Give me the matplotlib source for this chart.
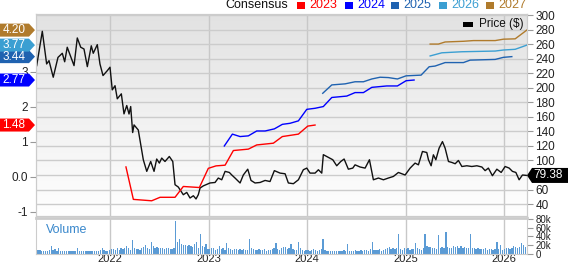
import matplotlib
matplotlib.use("Agg")
import matplotlib.pyplot as plt
import numpy as np
from matplotlib.colors import LinearSegmentedColormap
from matplotlib.patches import Polygon, Rectangle
from matplotlib.transforms import blended_transform_factory

plt.rcParams['font.family'] = ['Liberation Sans', 'DejaVu Sans']

# price ($), x in decimal years
price_t = [2021.256, 2021.313, 2021.357, 2021.381, 2021.424, 2021.472, 2021.516, 2021.540,
           2021.566, 2021.635, 2021.668, 2021.703, 2021.736, 2021.770, 2021.810, 2021.830,
           2021.871, 2021.898, 2021.929, 2021.973, 2022.000, 2022.023, 2022.051, 2022.074,
           2022.115, 2022.142, 2022.170, 2022.193, 2022.210, 2022.230, 2022.244, 2022.287,
           2022.338, 2022.373, 2022.413, 2022.447, 2022.474, 2022.501, 2022.525, 2022.558,
           2022.602, 2022.637, 2022.660, 2022.693, 2022.744, 2022.779, 2022.812, 2022.846,
           2022.873, 2022.896, 2022.914, 2022.947, 2023.015, 2023.066, 2023.099, 2023.134,
           2023.168, 2023.211, 2023.236, 2023.269, 2023.320, 2023.353, 2023.398, 2023.431,
           2023.472, 2023.523, 2023.574, 2023.624, 2023.668, 2023.726, 2023.777, 2023.810,
           2023.861, 2023.912, 2023.962, 2023.997, 2024.030, 2024.081, 2024.115, 2024.149,
           2024.165, 2024.200, 2024.261, 2024.301, 2024.342, 2024.376, 2024.419, 2024.464,
           2024.487, 2024.538, 2024.589, 2024.633, 2024.673, 2024.724, 2024.775, 2024.825,
           2024.876, 2024.927, 2024.995, 2025.046, 2025.096, 2025.130, 2025.171, 2025.215,
           2025.232, 2025.259, 2025.282, 2025.307, 2025.340, 2025.374, 2025.401, 2025.435,
           2025.469, 2025.503, 2025.536, 2025.571, 2025.621, 2025.672, 2025.723, 2025.774,
           2025.807, 2025.840, 2025.881, 2025.926, 2025.970, 2026.010, 2026.051, 2026.084,
           2026.119, 2026.152, 2026.186, 2026.230]
price = [230.7, 278, 233, 237.5, 214.7, 242, 247.7, 236,
         256, 230.7, 268.8, 256, 253.6, 229.3, 258, 247.7,
         259.6, 233, 217, 223.8, 228.5, 197.3, 203, 185,
         191.8, 164.2, 175.7, 164, 174.3, 138.5, 149, 142,
         101, 85, 98.6, 85, 102, 96.4, 103.3, 98.6,
         105.5, 98.6, 66.6, 63.4, 52.8, 56, 48.3, 51.4,
         47, 52.8, 62, 65, 69, 69.7, 75.8, 73.4,
         85, 83.5, 80, 75.8, 69, 80, 88, 72.5,
         69, 69.7, 72.5, 71, 86, 82.6, 81.7, 69,
         68, 73.4, 87.2, 89.5, 82.6, 82.6, 87.2, 82.6,
         108, 105.5, 101, 92.7, 98.6, 102, 88, 89.5,
         94, 91, 89.5, 101, 73.4, 75.8, 73.4, 75.8,
         78, 83.5, 80, 89.5, 96.4, 94, 112.4, 111,
         101, 92.7, 107.8, 101, 117, 126, 117, 98.6,
         97.3, 95.5, 100, 91.7, 92.7, 91.7, 92.7, 91,
         86, 89.5, 79, 88, 83.5, 91.7, 89.5, 85,
         83.5, 73.4, 80, 79.38]
last_price = 79.38

# consensus EPS estimates by fiscal year
eps23_t = [2022.162, 2022.237, 2022.423, 2022.508, 2022.660, 2022.744, 2022.907, 2022.998,
           2023.076, 2023.168, 2023.252, 2023.404, 2023.489, 2023.658, 2023.749, 2023.912,
           2024.007, 2024.081]
eps23 = [0.28, -0.65, -0.69, -0.59, -0.59, -0.28, -0.31, 0.24,
         0.31, 0.33, 0.75, 0.79, 0.91, 0.96, 1.15, 1.22, 1.45, 1.48]
eps24_t = [2023.160, 2023.242, 2023.320, 2023.404, 2023.489, 2023.574, 2023.668, 2023.749,
           2023.827, 2023.912, 2023.997, 2024.081, 2024.165, 2024.251, 2024.403, 2024.487,
           2024.572, 2024.657, 2024.809, 2024.917, 2025.005, 2025.086]
eps24 = [0.88, 1.22, 1.15, 1.17, 1.31, 1.31, 1.37, 1.50,
         1.53, 1.60, 1.93, 1.96, 2.01, 2.27, 2.31, 2.41,
         2.41, 2.56, 2.60, 2.60, 2.75, 2.77]
eps25_t = [2024.159, 2024.251, 2024.386, 2024.487, 2024.572, 2024.657, 2024.741, 2024.825,
           2024.917, 2025.005, 2025.157, 2025.239, 2025.299, 2025.401, 2025.587, 2025.655,
           2025.909, 2025.993, 2026.078]
eps25 = [2.39, 2.63, 2.66, 2.72, 2.72, 2.80, 2.85, 2.84,
         2.80, 2.89, 2.91, 3.15, 3.17, 3.27, 3.27, 3.34,
         3.36, 3.42, 3.44]
eps26_t = [2025.249, 2025.368, 2025.571, 2025.909, 2025.993, 2026.112, 2026.230]
eps26 = [3.46, 3.55, 3.58, 3.60, 3.63, 3.65, 3.77]
eps27_t = [2025.249, 2025.333, 2025.401, 2025.587, 2025.688, 2025.909, 2025.993, 2026.112, 2026.230]
eps27 = [3.80, 3.80, 3.86, 3.88, 3.90, 3.90, 3.94, 3.95, 4.20]

# weekly volume (thousands), starting April 2021
vol_start = 2021.25
volume = [6, 8, 8, 6, 5, 7, 6, 9, 17, 8,
          10, 7, 12, 6, 5, 5, 6, 5, 6, 7,
          5, 6, 13, 6, 5, 6, 5, 6, 5, 7,
          6, 5, 6, 7, 9, 14, 8, 6, 5, 9,
          10, 11, 9, 14, 8, 12, 10, 13, 17, 12,
          9, 31, 12, 10, 11, 9, 12, 16, 20, 14,
          10, 27, 17, 14, 15, 12, 13, 12, 11, 12,
          12, 11, 11, 12, 76, 28, 33, 22, 20, 21,
          17, 20, 18, 15, 22, 26, 14, 45, 18, 16,
          23, 11, 10, 12, 14, 9, 11, 17, 10, 12,
          9, 25, 12, 10, 9, 11, 10, 8, 10, 9,
          11, 8, 9, 33, 12, 10, 9, 8, 11, 9,
          8, 10, 7, 9, 8, 10, 12, 24, 11, 9,
          13, 15, 16, 10, 12, 22, 10, 8, 9, 28,
          12, 9, 7, 8, 8, 7, 9, 10, 8, 7,
          9, 10, 35, 9, 6, 5, 7, 5, 5, 6,
          5, 6, 7, 8, 6, 22, 7, 6, 7, 8,
          6, 7, 8, 7, 9, 8, 7, 10, 26, 9,
          8, 9, 10, 7, 9, 10, 12, 15, 11, 13,
          10, 12, 45, 11, 9, 13, 10, 12, 9, 11,
          10, 24, 12, 11, 9, 13, 45, 18, 15, 16,
          14, 12, 10, 43, 13, 15, 12, 51, 16, 14,
          13, 17, 16, 18, 14, 17, 12, 16, 13, 12,
          46, 13, 12, 11, 12, 10, 11, 10, 12, 9,
          10, 11, 9, 10, 28, 11, 20, 9, 10, 12,
          14, 11, 13, 18, 15, 13, 16, 25, 19, 16]

years = [2022, 2023, 2024, 2025, 2026]
series = ['2023', '2024', '2025', '2026', '2027']
colors = ['#ff0000', '#0000ff', '#1f62b0', '#3b9fd2', '#b07b2c']
badge_vals = [1.48, 2.77, 3.44, 3.77, 4.20]

W, H = 568, 264
x0, x1 = 2021.249, 2026.232

fig = plt.figure(figsize=(W / 100, H / 100), dpi=100)
ax = fig.add_axes([36 / W, 1 - 216 / H, 491 / W, 201.7 / H])
axv = fig.add_axes([36 / W, 1 - 253.5 / H, 491 / W, 35.5 / H])

# price panel
grad = LinearSegmentedColormap.from_list('g', ['#e2e2e2', '#ffffff'])
ax.imshow(np.linspace(0, 1, 256).reshape(-1, 1), cmap=grad, aspect='auto',
          extent=[x0, x1, 23.5, 301.4], zorder=0)
ax.set_xlim(x0, x1)
ax.set_ylim(23.5, 301.4)
pticks = list(range(40, 301, 20))
ax.set_yticks(pticks)
ax.set_yticklabels(['' if t == 80 else str(t) for t in pticks])
ax.yaxis.grid(True, color='#cccccc', lw=1)
for yr in years:
    ax.axvline(yr, color='#c8c8c8', lw=1, zorder=1)
ax.plot(price_t, price, color='#111111', lw=1, zorder=3)
ax.set_xticks([])

ax_eps = ax.twinx()
ax.yaxis.tick_right()
ax_eps.yaxis.tick_left()
ax_eps.set_ylim(-1.126, 4.653)
ax_eps.set_yticks([-1, 0, 1, 2, 3])
ax_eps.set_yticklabels(['-1', '0.0', '1', '2', '3'])
for t, v, c in zip([eps23_t, eps24_t, eps25_t, eps26_t, eps27_t],
                   [eps23, eps24, eps25, eps26, eps27], colors):
    ax_eps.plot(t, v, color=c, lw=1, zorder=4)

for a in (ax, ax_eps):
    for s in a.spines.values():
        s.set_color('#cccccc')
    a.tick_params(axis='y', length=4, color='#999999', labelsize=8.5,
                  labelcolor='#222222', pad=2)

# price legend
ax.add_patch(Rectangle((463 / W, 1 - 27 / H), 10 / W, 5 / H, transform=fig.transFigure,
                       facecolor='black', edgecolor='none', zorder=5))
fig.text(479 / W, 1 - 24.5 / H, 'Price ($)', fontsize=8.5, color='#111111', va='center')

# volume panel
axv.bar([vol_start + i / 52.18 for i in range(len(volume))], volume,
        width=0.013, color='#5b9bd5', lw=0)
axv.set_xlim(x0, x1)
axv.set_ylim(0, 83)
for yr in years:
    axv.axvline(yr, color='#c8c8c8', lw=1, zorder=0)
axv.set_xticks(years)
axv.set_xticklabels([str(y) for y in years])
axv.yaxis.tick_right()
axv.set_yticks([0, 20, 40, 60, 80])
axv.set_yticklabels(['0', '20k', '40k', '60k', '80k'])
axv.tick_params(axis='y', length=4, color='#999999', labelsize=7, labelcolor='#222222', pad=2)
axv.tick_params(axis='x', length=0, labelsize=8, labelcolor='#222222', pad=0)
for s in axv.spines.values():
    s.set_color('#cccccc')
axv.spines['top'].set_linewidth(2)
axv.text(0.02, 0.66, 'Volume', transform=axv.transAxes, color='#3a88cc',
         fontsize=9, va='center')

# left badges
tr = blended_transform_factory(fig.transFigure, ax_eps.transData)
hh = 6.5 / 34.9
for v, c in zip(badge_vals, colors):
    pts = [(0, v - hh), (29 / W, v - hh), (35 / W, v), (29 / W, v + hh), (0, v + hh)]
    fig.add_artist(Polygon(pts, closed=True, transform=tr, facecolor=c, edgecolor='none'))
    fig.text(14 / W, v, f'{v:.2f}', transform=tr, color='white', fontsize=8.5,
             ha='center', va='center')

# last price badge
trp = blended_transform_factory(fig.transFigure, ax.transData)
ph = 7.5 * 1.3775
pts = [(527 / W, last_price), (532 / W, last_price + ph), (1, last_price + ph),
       (1, last_price - ph), (532 / W, last_price - ph)]
fig.add_artist(Polygon(pts, closed=True, transform=trp, facecolor='black', edgecolor='none'))
fig.text(548 / W, last_price, f'{last_price:.2f}', transform=trp, color='white',
         fontsize=8.5, ha='center', va='center')

# consensus legend on top
ty = 1 - 5.5 / H
fig.text(225 / W, ty, 'Consensus', fontsize=9, color='#111111', va='center')
for lx, lab, c in zip([297, 345, 391, 439, 486], series, colors):
    fig.patches.append(Rectangle((lx / W, 1 - 9 / H), 8 / W, 7 / H, transform=fig.transFigure,
                                 facecolor=c, edgecolor='none'))
    fig.text((lx + 12) / W, ty, lab, fontsize=9, color=c, va='center')

fig.savefig('out.png', dpi=100)
